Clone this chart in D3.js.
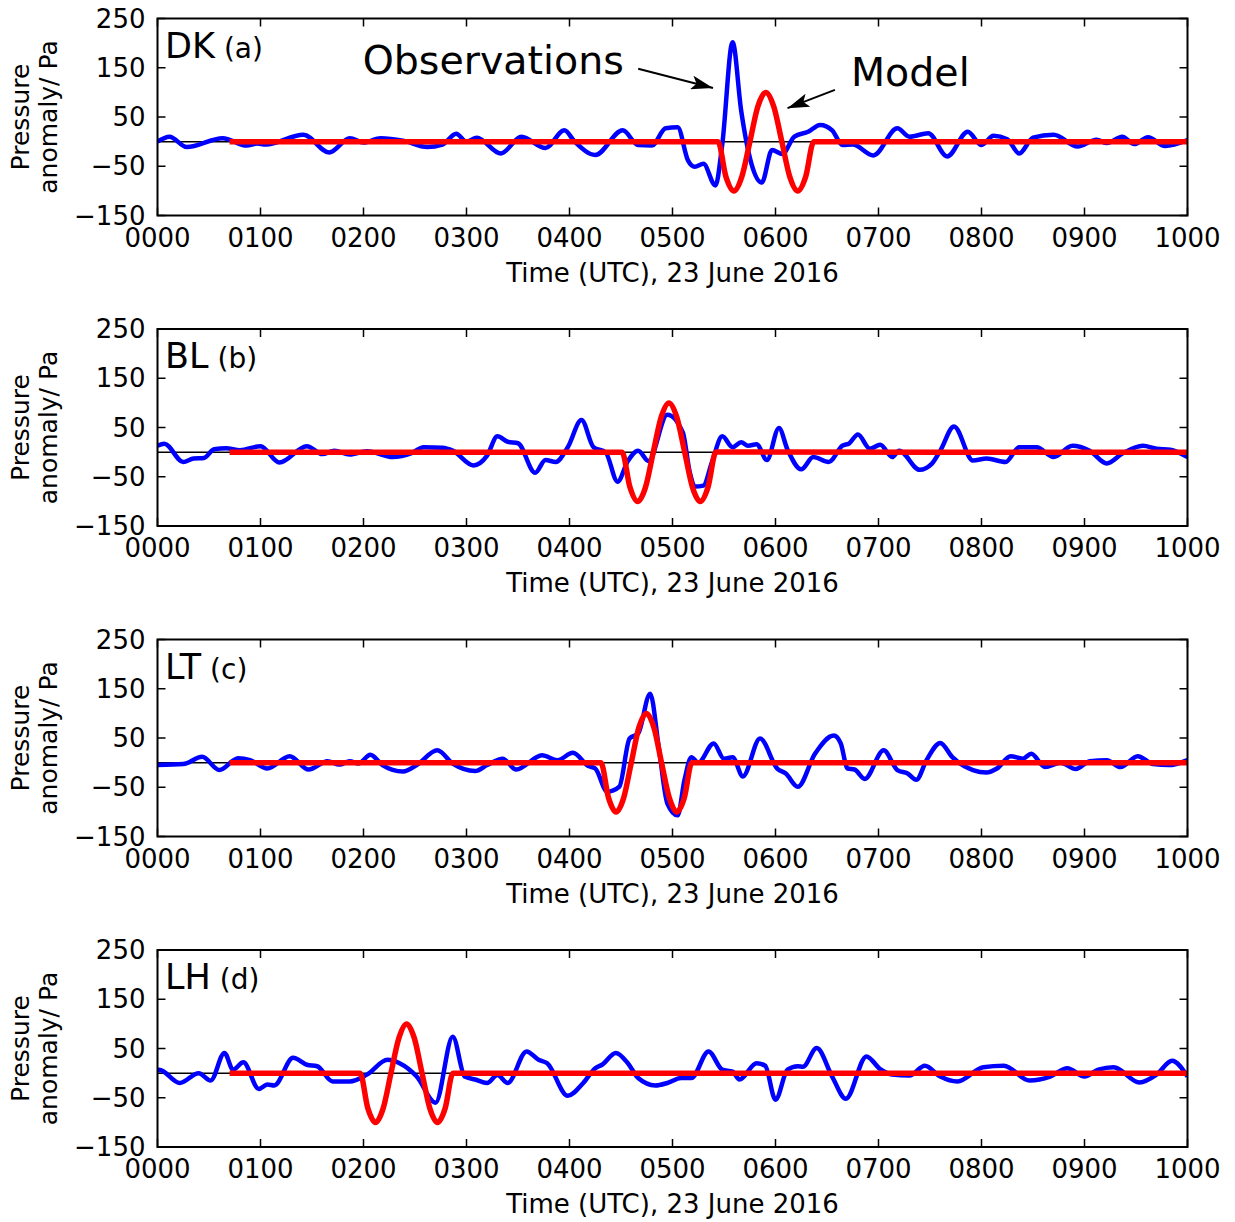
<!DOCTYPE html>
<html>
<head>
<meta charset="utf-8">
<script src="https://cdn.jsdelivr.net/npm/d3@7"></script>
<style>
  body { margin: 0; background: #fff; }
  svg { display: block; }
  text { font-family: "DejaVu Sans", sans-serif; fill: #000; }
</style>
</head>
<body>
<svg id="chart" width="1235" height="1222"></svg>
<script>
// time in minutes after 0000 UTC, pressure anomaly in Pa
var timeTicks = [0, 60, 120, 180, 240, 300, 360, 420, 480, 540, 600];
var timeLabels = ["0000", "0100", "0200", "0300", "0400", "0500", "0600", "0700", "0800", "0900", "1000"];
var pressureTicks = [-150, -50, 50, 150, 250];
var stations = ["DK", "BL", "LT", "LH"];
var panelTags = ["(a)", "(b)", "(c)", "(d)"];

var obsDK = [[0,0],[7,10],[17,-11],[38,7],[52,-8],[58,-4],[63,-6],[85,14],[100,-22],[112,7],[120,-2],
  [130,7],[143,2],[157,-11],[166,-6],[174,16],[180,0],[186,8],[200,-24],[212,10],[226,-13],[237,23],
  [243,0],[255,-27],[271,23],[280,-7],[288,-8],[296,27],[303,29],[309,-38],[313,-51],[318,-45],
  [325,-89],[329,-5],[335,202],[340,63],[346,-45],[352,-83],[358,-17],[364,-25],[371,10],[379,20],
  [386,34],[393,23],[399,-7],[405,-6],[417,-28],[431,27],[438,10],[449,17],[460,-30],[472,20],
  [480,-7],[487,12],[495,5],[502,-24],[510,8],[522,14],[536,-10],[547,4],[553,-3],[562,10],
  [569,-5],[577,9],[587,-9],[600,3]];
var modelDK = [[42,0],[326.5,0],[331.1,-71],[335.8,-100],[340.4,-71],[345.1,0],[349.7,71],[354.4,100],
  [359.0,71],[363.7,0],[368.3,-71],[373.0,-100],[377.6,-71],[382.3,0],[600,0]];

var obsBL = [[0,13],[4,17],[15,-20],[21,-13],[27,-12],[33,6],[40,8],[48,4],[60,12],[71,-21],[87,12],
  [96,-4],[103,3],[112,-5],[122,2],[137,-10],[148,-2],[155,10],[166,9],[172,3],[184,-27],[192,-7],
  [198,32],[204,21],[210,18],[220,-42],[226,-16],[232,-20],[239,10],[247,65],[254,10],[261,0],
  [268,-60],[274,-18],[280,3],[286,-18],[297,76],[306,40],[310,-40],[313,-70],[318,-68],[323,-20],
  [329,32],[335,10],[340,20],[344,13],[349,16],[355,-16],[362,49],[367,5],[375,-35],[382,-10],
  [391,-20],[399,13],[403,18],[408,36],[415,7],[421,15],[428,-10],[432,3],[444,-36],[451,-24],
  [456,3],[464,52],[475,-17],[483,-13],[494,-20],[502,10],[512,10],[522,-10],[533,13],[543,3],
  [553,-23],[562,-3],[574,13],[582,7],[590,5],[600,-10]];
var modelBL = [[42,0],[270.6,0],[275.2,-71],[279.7,-100],[284.3,-71],[288.8,0],[293.4,71],[297.9,100],
  [302.5,71],[307.1,0],[311.6,-71],[316.2,-100],[320.7,-71],[325.3,0],[600,0]];

var obsLT = [[0,-5],[15,-3],[26,12],[36,-15],[47,9],[54,5],[64,-12],[77,13],[88,-14],[99,3],[106,-4],
  [112,3],[117,-2],[124,16],[131,-5],[143,-18],[151,-5],[163,25],[172,-2],[185,-17],[192,-5],
  [198,5],[201,8],[209,-14],[224,15],[233,5],[242,20],[251,-7],[255,-12],[262,-59],[269,-49],
  [275,49],[280,59],[287,140],[292,31],[297,-83],[303,-107],[307,-35],[311,11],[315,0],[324,39],
  [330,8],[335,11],[341,-28],[351,49],[361,-12],[366,-22],[373,-49],[383,18],[394,55],[398,39],
  [402,-12],[406,-14],[412,-33],[423,25],[431,-15],[437,-22],[442,-35],[448,5],[456,40],[463,11],
  [475,-15],[483,-20],[489,-12],[497,13],[504,8],[509,18],[517,-9],[526,0],[535,-13],[543,3],
  [553,5],[561,-9],[571,13],[580,-3],[589,-5],[600,5]];
var modelLT = [[42,0],[258.3,0],[262.7,-71],[267.1,-100],[271.6,-71],[276.0,0],[280.4,71],[284.8,100],
  [289.2,71],[293.6,0],[298.1,-71],[302.5,-100],[306.9,-71],[311.3,0],[600,0]];

var obsLH = [[0,3],[1,7],[13,-20],[24,0],[31,-15],[39,41],[44,7],[50,22],[59,-32],[64,-23],[68,-25],
  [79,31],[87,17],[93,14],[102,-17],[112,-17],[122,-3],[134,27],[141,20],[151,-7],[162,-60],
  [172,74],[179,-7],[185,-13],[192,-20],[198,-4],[204,-20],[215,44],[222,27],[227,20],[239,-46],
  [248,-20],[255,10],[259,17],[267,41],[274,20],[280,-10],[290,-25],[297,-20],[305,-10],[311,-10],
  [321,44],[329,7],[335,3],[339,-13],[349,20],[354,15],[360,-54],[367,7],[373,14],[376,13],
  [384,51],[393,-7],[401,-52],[413,34],[421,8],[428,-3],[438,-5],[447,15],[456,-7],[466,-17],
  [481,12],[493,15],[508,-15],[520,-7],[530,10],[540,-7],[548,7],[557,12],[572,-19],[582,-3],
  [591,25],[600,-7]];
var modelLH = [[42,0],[118.0,0],[122.5,-71],[127.0,-100],[131.5,-71],[136.0,0],[140.6,71],[145.1,100],
  [149.6,71],[154.1,0],[158.6,-71],[163.1,-100],[167.6,-71],[172.1,0],[600,0]];

var observations = [obsDK, obsBL, obsLT, obsLH];
var models = [modelDK, modelBL, modelLT, modelLH];

// annotation anchors for panel (a), in data units
var obsNote = {text: "Observations", t: 119.5, v: 137, from: [280, 148], to: [323.6, 109]};
var modelNote = {text: "Model", t: 404, v: 112, from: [394.6, 105], to: [367, 68]};

var left = 157.5, right = 1187.5;
var panelTops = [18.5, 329, 639.5, 950];
var panelH = 197;

var svg = d3.select("#chart");
var defs = svg.append("defs");
defs.append("marker")
  .attr("id", "arrow")
  .attr("viewBox", "0 -7 22 14")
  .attr("refX", 22).attr("refY", 0)
  .attr("markerWidth", 22).attr("markerHeight", 14)
  .attr("markerUnits", "userSpaceOnUse")
  .attr("orient", "auto")
  .append("path").attr("d", "M0,-7L22,0L0,7L5,0Z").attr("fill", "#000");

var x = d3.scaleLinear().domain([0, 600]).range([left, right]);

stations.forEach(function(name, i) {
  var top = panelTops[i], bottom = top + panelH;
  var y = d3.scaleLinear().domain([-150, 250]).range([bottom, top]);
  var g = svg.append("g");

  defs.append("clipPath").attr("id", "clip" + i)
    .append("rect").attr("x", left).attr("y", top).attr("width", right - left).attr("height", panelH);

  var plot = g.append("g").attr("clip-path", "url(#clip" + i + ")");
  plot.append("line")
    .attr("x1", left).attr("x2", right).attr("y1", y(0)).attr("y2", y(0))
    .attr("stroke", "#000").attr("stroke-width", 1.5);

  var line = d3.line()
    .x(function(d) { return x(d[0]); })
    .y(function(d) { return y(d[1]); })
    .curve(d3.curveMonotoneX);

  plot.append("path").datum(observations[i])
    .attr("d", line).attr("fill", "none")
    .attr("stroke", "#0000ff").attr("stroke-width", 4.5).attr("stroke-linejoin", "round");
  plot.append("path").datum(models[i])
    .attr("d", line).attr("fill", "none")
    .attr("stroke", "#ff0000").attr("stroke-width", 5.5).attr("stroke-linejoin", "round");

  // inward ticks on all four sides
  var ticks = g.append("g").attr("stroke", "#000").attr("stroke-width", 1.5);
  timeTicks.forEach(function(t) {
    ticks.append("line").attr("x1", x(t)).attr("x2", x(t)).attr("y1", bottom).attr("y2", bottom - 8);
    ticks.append("line").attr("x1", x(t)).attr("x2", x(t)).attr("y1", top).attr("y2", top + 8);
  });
  pressureTicks.forEach(function(p) {
    ticks.append("line").attr("x1", left).attr("x2", left + 8).attr("y1", y(p)).attr("y2", y(p));
    ticks.append("line").attr("x1", right).attr("x2", right - 8).attr("y1", y(p)).attr("y2", y(p));
  });

  g.append("rect")
    .attr("x", left).attr("y", top).attr("width", right - left).attr("height", panelH)
    .attr("fill", "none").attr("stroke", "#000").attr("stroke-width", 2);

  g.selectAll(".xl").data(timeTicks).enter().append("text")
    .attr("x", function(t) { return x(t); })
    .attr("y", bottom + 22).attr("dy", "0.35em")
    .attr("text-anchor", "middle").attr("font-size", 26)
    .text(function(t, j) { return timeLabels[j]; });

  g.selectAll(".yl").data(pressureTicks).enter().append("text")
    .attr("x", left - 12).attr("y", function(p) { return y(p); }).attr("dy", "0.35em")
    .attr("text-anchor", "end").attr("font-size", 26)
    .text(function(p) { return p < 0 ? "\u2212" + Math.abs(p) : p; });

  g.append("text")
    .attr("x", (left + right) / 2).attr("y", bottom + 57).attr("dy", "0.35em")
    .attr("text-anchor", "middle").attr("font-size", 26)
    .text("Time (UTC), 23 June 2016");

  var ylab = g.append("text")
    .attr("transform", "translate(0," + (top + panelH / 2) + ") rotate(-90)")
    .attr("text-anchor", "middle").attr("font-size", 25);
  ylab.append("tspan").attr("x", 0).attr("y", 29).text("Pressure");
  ylab.append("tspan").attr("x", 0).attr("y", 57).text("anomaly/ Pa");

  var tag = g.append("text").attr("x", 165).attr("y", top + 39);
  tag.append("tspan").attr("font-size", 35).text(name);
  tag.append("tspan").attr("font-size", 28).attr("dx", 9).text(panelTags[i]);

  if (i === 0) {
    [obsNote, modelNote].forEach(function(n) {
      g.append("text").attr("x", x(n.t)).attr("y", y(n.v))
        .attr("font-size", 39.5).text(n.text);
      g.append("line")
        .attr("x1", x(n.from[0])).attr("y1", y(n.from[1]))
        .attr("x2", x(n.to[0])).attr("y2", y(n.to[1]))
        .attr("stroke", "#000").attr("stroke-width", 2)
        .attr("marker-end", "url(#arrow)");
    });
  }
});
</script>
</body>
</html>
